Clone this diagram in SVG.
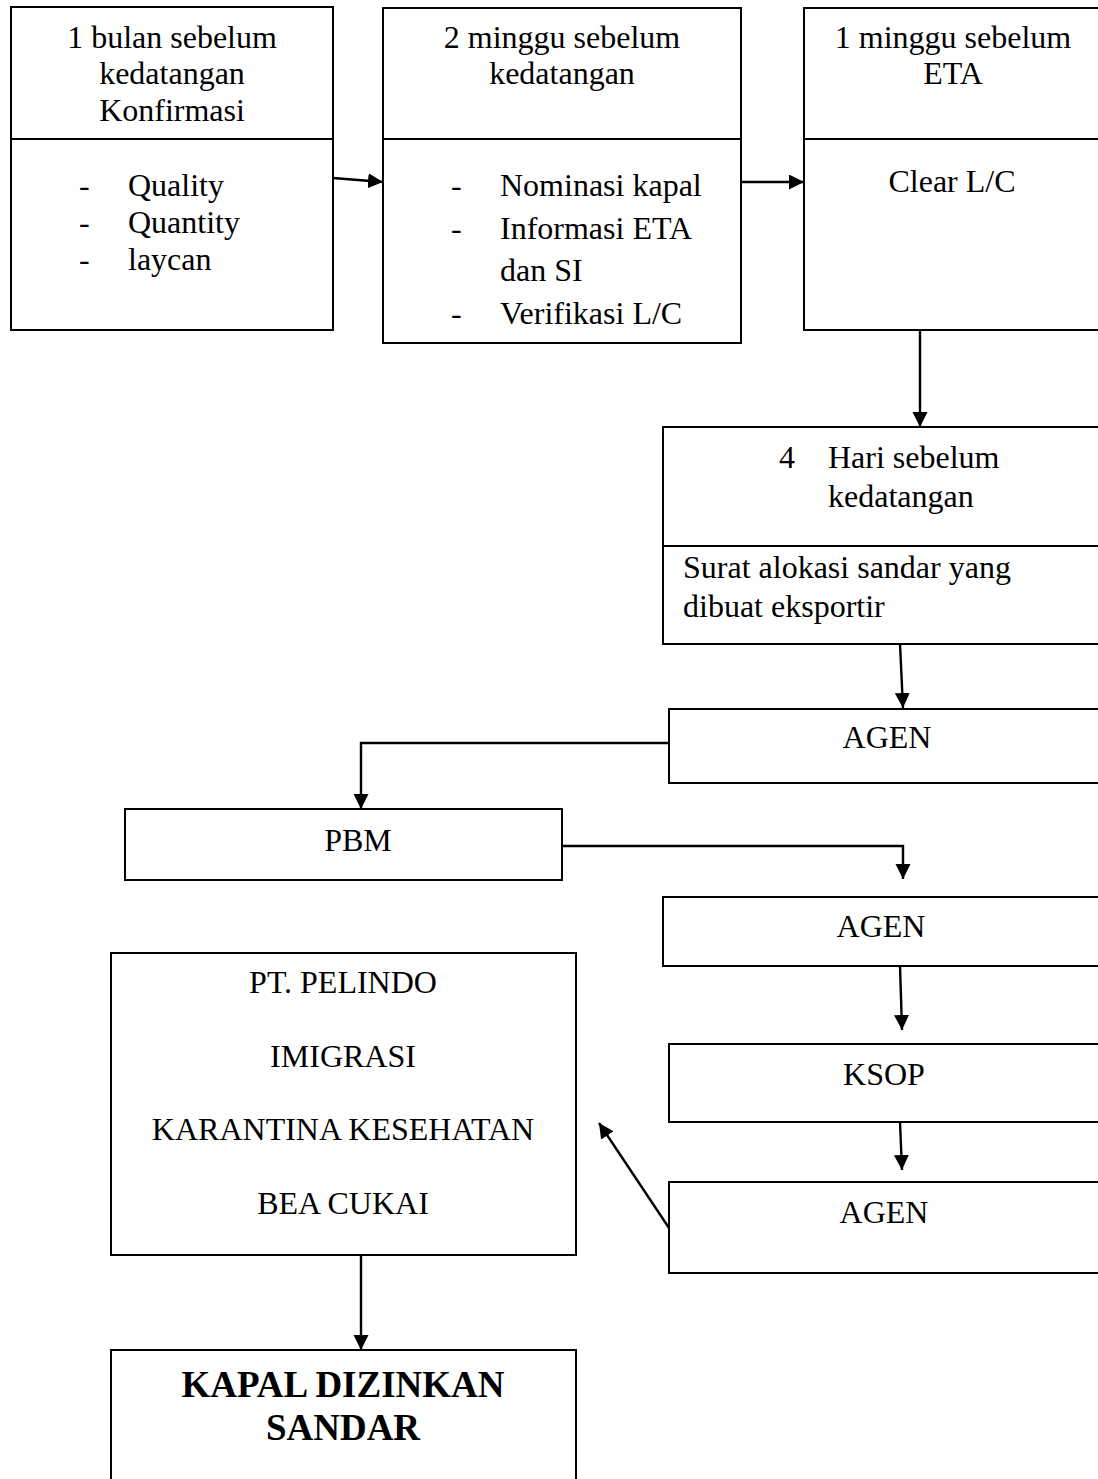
<svg xmlns="http://www.w3.org/2000/svg" width="1098" height="1479" viewBox="0 0 1098 1479">
<style>
.box{fill:#fff;stroke:#000;stroke-width:2}
.div{stroke:#000;stroke-width:2}
text{font-family:"Liberation Serif","Times New Roman",serif;font-size:32px;fill:#000}
.c{text-anchor:middle}
.b{font-weight:bold;font-size:37px}
.conn{fill:none;stroke:#000;stroke-width:2.4}
</style>
<defs>
<marker id="ah" markerUnits="userSpaceOnUse" markerWidth="16" markerHeight="16" refX="15" refY="7.5" orient="auto">
<path d="M0,0 L15,7.5 L0,15 Z" fill="#000"/>
</marker>
</defs>
<rect width="1098" height="1479" fill="#fff"/>

<g id="connectors">
<line class="conn" x1="333" y1="178" x2="383" y2="182" marker-end="url(#ah)"/>
<line class="conn" x1="741" y1="182" x2="804" y2="182" marker-end="url(#ah)"/>
<line class="conn" x1="920" y1="330" x2="920" y2="427" marker-end="url(#ah)"/>
<line class="conn" x1="900" y1="644" x2="903" y2="708" marker-end="url(#ah)"/>
<polyline class="conn" points="669,743 361,743 361,809" marker-end="url(#ah)"/>
<polyline class="conn" points="562,846 903,846 903,879" marker-end="url(#ah)"/>
<line class="conn" x1="900" y1="966" x2="902" y2="1030" marker-end="url(#ah)"/>
<line class="conn" x1="900" y1="1122" x2="902" y2="1170" marker-end="url(#ah)"/>
<line class="conn" x1="669" y1="1228" x2="599" y2="1123" marker-end="url(#ah)"/>
<line class="conn" x1="361" y1="1255" x2="361" y2="1350" marker-end="url(#ah)"/>
</g>

<g id="node-1bulan">
<rect class="box" x="11" y="7" width="322" height="323"/>
<line class="div" x1="11" y1="139" x2="333" y2="139"/>
<text class="c" x="172" y="48">1 bulan sebelum</text>
<text class="c" x="172" y="84">kedatangan</text>
<text class="c" x="172" y="121">Konfirmasi</text>
<text x="79" y="196">-</text><text x="128" y="196">Quality</text>
<text x="79" y="233">-</text><text x="128" y="233">Quantity</text>
<text x="79" y="270">-</text><text x="128" y="270">laycan</text>
</g>

<g id="node-2minggu">
<rect class="box" x="383" y="8" width="358" height="335"/>
<line class="div" x1="383" y1="139" x2="741" y2="139"/>
<text class="c" x="562" y="48">2 minggu sebelum</text>
<text class="c" x="562" y="84">kedatangan</text>
<text x="451" y="196">-</text><text x="500" y="196">Nominasi kapal</text>
<text x="451" y="239">-</text><text x="500" y="239">Informasi ETA</text>
<text x="500" y="281">dan SI</text>
<text x="451" y="324">-</text><text x="500" y="324">Verifikasi L/C</text>
</g>

<g id="node-1minggu">
<rect class="box" x="804" y="8" width="310" height="322"/>
<line class="div" x1="804" y1="139" x2="1114" y2="139"/>
<text class="c" x="953" y="48">1 minggu sebelum</text>
<text class="c" x="953" y="84">ETA</text>
<text class="c" x="952" y="192">Clear L/C</text>
</g>

<g id="node-4hari">
<rect class="box" x="663" y="427" width="450" height="217"/>
<line class="div" x1="663" y1="546" x2="1113" y2="546"/>
<text x="779" y="468">4</text>
<text x="828" y="468">Hari sebelum</text>
<text x="828" y="507">kedatangan</text>
<text x="683" y="578">Surat alokasi sandar yang</text>
<text x="683" y="617">dibuat eksportir</text>
</g>

<g id="node-agen1">
<rect class="box" x="669" y="709" width="444" height="74"/>
<text class="c" x="887" y="748">AGEN</text>
</g>

<g id="node-pbm">
<rect class="box" x="125" y="809" width="437" height="71"/>
<text class="c" x="358" y="851">PBM</text>
</g>

<g id="node-agen2">
<rect class="box" x="663" y="897" width="450" height="69"/>
<text class="c" x="881" y="937">AGEN</text>
</g>

<g id="node-ksop">
<rect class="box" x="669" y="1044" width="444" height="78"/>
<text class="c" x="884" y="1085">KSOP</text>
</g>

<g id="node-agen3">
<rect class="box" x="669" y="1182" width="444" height="91"/>
<text class="c" x="884" y="1223">AGEN</text>
</g>

<g id="node-pelindo">
<rect class="box" x="111" y="953" width="465" height="302"/>
<text class="c" x="343" y="993">PT. PELINDO</text>
<text class="c" x="343" y="1067">IMIGRASI</text>
<text class="c" x="343" y="1140">KARANTINA KESEHATAN</text>
<text class="c" x="343" y="1214">BEA CUKAI</text>
</g>

<g id="node-kapal">
<rect class="box" x="111" y="1350" width="465" height="150"/>
<text class="c b" x="343" y="1397">KAPAL DIZINKAN</text>
<text class="c b" x="343" y="1440">SANDAR</text>
</g>
</svg>
